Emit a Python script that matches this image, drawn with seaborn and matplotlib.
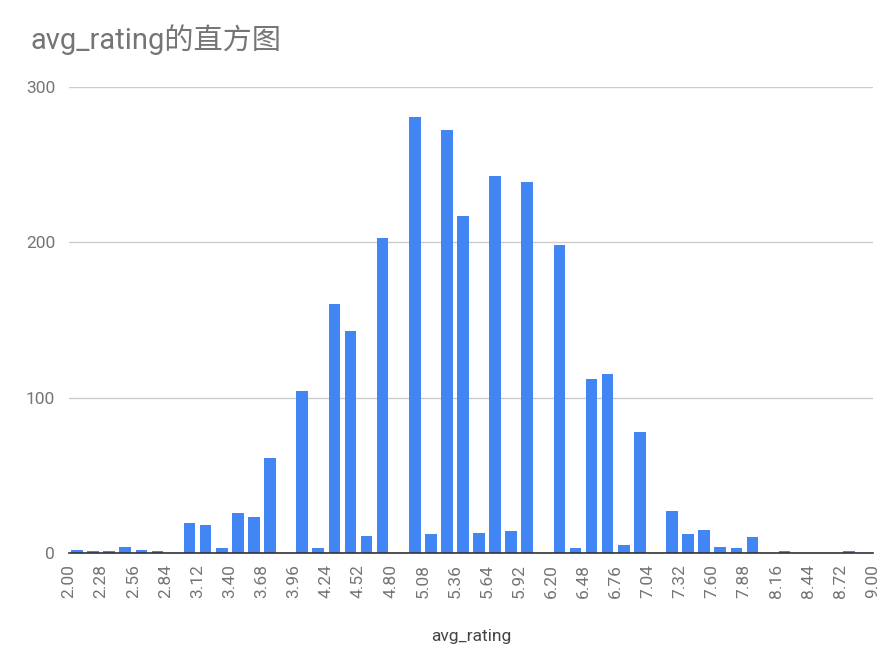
import matplotlib
matplotlib.use("Agg")
import matplotlib.pyplot as plt
import seaborn as sns
import numpy as np
import pandas as pd

bin_start = 2.00
bin_width = 0.14
counts = [2, 1, 1, 4, 2, 1, 0, 19, 18, 3,
          26, 23, 61, 0, 104, 3, 160, 143, 11, 203,
          0, 281, 12, 272, 217, 13, 243, 14, 239, 0,
          198, 3, 112, 115, 5, 78, 0, 27, 12, 15,
          4, 3, 10, 0, 1, 0, 0, 0, 1, 0]
xtick_labels = ["2.00", "2.28", "2.56", "2.84", "3.12", "3.40", "3.68", "3.96",
                "4.24", "4.52", "4.80", "5.08", "5.36", "5.64", "5.92", "6.20",
                "6.48", "6.76", "7.04", "7.32", "7.60", "7.88", "8.16", "8.44",
                "8.72", "9.00"]
yticks = [0, 100, 200, 300]

sns.set_theme(style="white")
fam = ["Roboto", "Noto Sans CJK SC", "DejaVu Sans"]
plt.rcParams["font.family"] = fam

n = len(counts)
edges = [round(bin_start + bin_width * i, 2) for i in range(n + 1)]
centers = [bin_start + bin_width * (i + 0.5) for i in range(n)]
df = pd.DataFrame({"avg_rating": centers, "count": counts})

fig = plt.figure(figsize=(8.96, 6.58), dpi=100)
ax = fig.add_axes([69 / 896, 105 / 658, 804 / 896, 466 / 658])

sns.histplot(data=df, x="avg_rating", weights="count", bins=edges, shrink=0.72,
             color="#4285F4", alpha=1, edgecolor="none", linewidth=0, ax=ax)

ax.set_xlim(2.0, 9.0)
ax.set_ylim(0, 300)
ax.set_yticks(yticks)
ax.set_yticklabels([str(v) for v in yticks], color="#757575", fontsize=12.5)
ax.set_xticks([float(t) for t in xtick_labels])
ax.set_xticklabels(xtick_labels, rotation=90, color="#757575", fontsize=12.5)
ax.tick_params(axis="y", length=0, pad=10)
ax.tick_params(axis="x", length=0, pad=8)
ax.yaxis.grid(True, color="#cccccc", linewidth=1)
ax.set_axisbelow(True)
for s in ["top", "right", "left"]:
    ax.spines[s].set_visible(False)
ax.spines["bottom"].set_color("#333333")
ax.spines["bottom"].set_linewidth(1.2)
ax.set_ylabel("")
ax.set_xlabel("avg_rating", color="#444444", fontsize=12.5, labelpad=22)

fig.text(30 / 896, 1 - 40 / 658, "avg_rating的直方图", fontsize=21, color="#757575",
         family=fam, va="center", ha="left")

fig.savefig("out.png", dpi=100, facecolor="white")
